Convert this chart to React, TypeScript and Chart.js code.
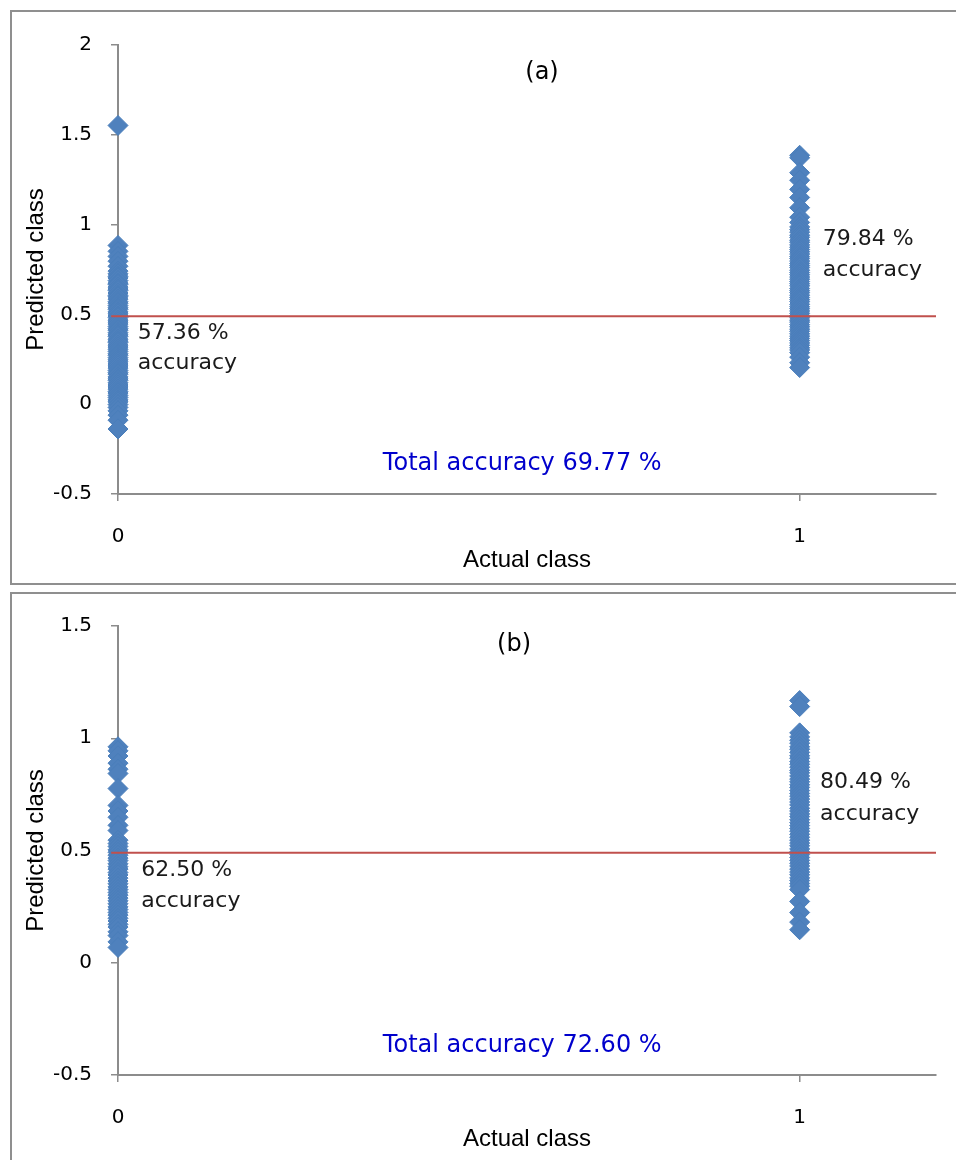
import React, { useEffect, useRef } from 'react';
import { Chart, registerables } from 'chart.js';

Chart.register(...registerables);

// ---------- data ----------
const xTicks = [0, 1];
const yTicksA = [-0.5, 0, 0.5, 1, 1.5, 2];
const yTicksB = [-0.5, 0, 0.5, 1, 1.5];

// Panel (a): predicted values for actual class 0 and actual class 1
const predA0 = [1.552, 0.884, 0.851, 0.823, 0.796, 0.768, 0.741, 0.726, 0.712, 0.703, 0.688, 0.674, 0.667, 0.652, 0.641, 0.633, 0.619, 0.606, 0.598, 0.585, 0.571, 0.562, 0.549, 0.537, 0.528, 0.514, 0.503, 0.491, 0.482, 0.468, 0.457, 0.446, 0.433, 0.421, 0.412, 0.398, 0.386, 0.377, 0.362, 0.351, 0.343, 0.329, 0.318, 0.306, 0.294, 0.281, 0.272, 0.259, 0.247, 0.236, 0.224, 0.213, 0.201, 0.188, 0.176, 0.167, 0.152, 0.141, 0.133, 0.119, 0.107, 0.096, 0.084, 0.071, 0.062, 0.049, 0.037, 0.024, 0.013, -0.002, -0.018, -0.037, -0.061, -0.089, -0.138];
const predA1 = [1.386, 1.372, 1.289, 1.247, 1.196, 1.151, 1.094, 1.041, 1.012, 0.987, 0.972, 0.958, 0.941, 0.929, 0.913, 0.902, 0.887, 0.874, 0.861, 0.849, 0.836, 0.822, 0.811, 0.797, 0.784, 0.772, 0.761, 0.746, 0.733, 0.721, 0.708, 0.696, 0.683, 0.671, 0.659, 0.644, 0.632, 0.621, 0.607, 0.594, 0.582, 0.571, 0.556, 0.543, 0.532, 0.519, 0.506, 0.494, 0.481, 0.468, 0.457, 0.443, 0.431, 0.418, 0.406, 0.392, 0.379, 0.366, 0.354, 0.341, 0.328, 0.314, 0.302, 0.287, 0.262, 0.231, 0.204];

// Panel (b)
const predB0 = [0.962, 0.944, 0.921, 0.889, 0.862, 0.843, 0.776, 0.701, 0.676, 0.648, 0.612, 0.589, 0.546, 0.531, 0.518, 0.503, 0.492, 0.479, 0.466, 0.455, 0.441, 0.428, 0.417, 0.402, 0.391, 0.377, 0.364, 0.352, 0.338, 0.326, 0.313, 0.301, 0.288, 0.276, 0.263, 0.249, 0.237, 0.224, 0.212, 0.198, 0.186, 0.171, 0.159, 0.138, 0.121, 0.093, 0.068];
const predB1 = [1.168, 1.141, 1.024, 1.006, 0.991, 0.978, 0.962, 0.951, 0.937, 0.922, 0.911, 0.896, 0.884, 0.871, 0.857, 0.846, 0.832, 0.818, 0.806, 0.793, 0.781, 0.767, 0.754, 0.742, 0.729, 0.716, 0.703, 0.688, 0.676, 0.663, 0.651, 0.637, 0.624, 0.611, 0.598, 0.586, 0.572, 0.559, 0.546, 0.533, 0.521, 0.507, 0.494, 0.482, 0.469, 0.456, 0.443, 0.431, 0.417, 0.404, 0.392, 0.378, 0.366, 0.353, 0.341, 0.326, 0.273, 0.224, 0.181, 0.147];

const thresholdA = 0.49;
const thresholdB = 0.49;
const thresholdXRange = [-0.01, 1.2];

const labelsA = [
  { text: '(a)', x: 0.622, y: 1.844, align: 'center', kind: 'panel' },
  { text: '57.36 %', x: 0.029, y: 0.396, align: 'left', kind: 'note' },
  { text: 'accuracy', x: 0.029, y: 0.229, align: 'left', kind: 'note' },
  { text: '79.84 %', x: 1.034, y: 0.92, align: 'left', kind: 'note' },
  { text: 'accuracy', x: 1.034, y: 0.747, align: 'left', kind: 'note' },
  { text: 'Total accuracy 69.77 %', x: 0.593, y: -0.333, align: 'center', kind: 'total' },
];
const labelsB = [
  { text: '(b)', x: 0.581, y: 1.415, align: 'center', kind: 'panel' },
  { text: '62.50 %', x: 0.034, y: 0.413, align: 'left', kind: 'note' },
  { text: 'accuracy', x: 0.034, y: 0.275, align: 'left', kind: 'note' },
  { text: '80.49 %', x: 1.03, y: 0.805, align: 'left', kind: 'note' },
  { text: 'accuracy', x: 1.03, y: 0.663, align: 'left', kind: 'note' },
  { text: 'Total accuracy 72.60 %', x: 0.593, y: -0.371, align: 'center', kind: 'total' },
];

// ---------- styles ----------
const BLUE = '#4F81BD';
const BLUE_EDGE = '#4A7EBB';
const RED = '#C0504D';
const AXIS = '#8c8c8c';
const TICK_FONT = { family: 'DejaVu Sans', size: 20 };
const TITLE_FONT = { family: 'Liberation Sans', size: 24 };
const TEXT_FONTS: Record<string, string> = {
  panel: '24px "DejaVu Sans"',
  note: '22px "DejaVu Sans"',
  total: '24px "DejaVu Sans"',
};
const TEXT_COLORS: Record<string, string> = {
  panel: '#000000',
  note: '#1a1a1a',
  total: '#0000CC',
};

const textPlugin = {
  id: 'freeTexts',
  afterDatasetsDraw(chart: any, _args: any, opts: any) {
    const { ctx } = chart;
    const xs = chart.scales.x;
    const ys = chart.scales.y;
    ctx.save();
    for (const t of opts.items || []) {
      ctx.font = TEXT_FONTS[t.kind];
      ctx.fillStyle = TEXT_COLORS[t.kind];
      ctx.textAlign = t.align;
      ctx.textBaseline = 'middle';
      ctx.fillText(t.text, xs.getPixelForValue(t.x), ys.getPixelForValue(t.y));
    }
    ctx.restore();
  },
};

type PanelProps = {
  top: number;
  height: number;
  class0: number[];
  class1: number[];
  threshold: number;
  yTicks: number[];
  labels: any[];
  padTop: number;
  xAxisHeight: number;
  xTitlePad: number;
};

function Panel(p: PanelProps) {
  const ref = useRef<HTMLCanvasElement | null>(null);
  useEffect(() => {
    if (!ref.current) return;
    const pointStyle = {
      pointStyle: 'rectRot',
      pointRadius: 10,
      pointHoverRadius: 10,
      backgroundColor: BLUE,
      borderColor: BLUE_EDGE,
      borderWidth: 1,
      showLine: false,
      clip: false as any,
      order: 2,
    };
    const chart = new Chart(ref.current, {
      type: 'scatter',
      data: {
        datasets: [
          { ...pointStyle, label: 'class 0', data: p.class0.map((v) => ({ x: xTicks[0], y: v })) },
          { ...pointStyle, label: 'class 1', data: p.class1.map((v) => ({ x: xTicks[1], y: v })) },
          {
            label: 'threshold',
            data: thresholdXRange.map((x) => ({ x, y: p.threshold })),
            showLine: true,
            borderColor: RED,
            backgroundColor: RED,
            borderWidth: 2,
            pointRadius: 0,
            clip: false as any,
            order: 0,
          },
        ],
      },
      options: {
        responsive: false,
        animation: false,
        events: [],
        layout: { padding: { top: p.padTop, right: 20, left: 0, bottom: 0 } },
        plugins: {
          legend: { display: false },
          tooltip: { enabled: false },
          freeTexts: { items: p.labels },
        } as any,
        scales: {
          x: {
            type: 'linear',
            position: 'bottom',
            min: 0,
            max: 1.2,
            afterBuildTicks: (s: any) => {
              s.ticks = xTicks.map((v) => ({ value: v }));
            },
            afterFit: (s: any) => {
              s.height = p.xAxisHeight;
            },
            ticks: { font: TICK_FONT, color: '#000', padding: 24, callback: (v: any) => String(v) },
            grid: { drawOnChartArea: false, drawTicks: true, tickLength: 7, color: AXIS, lineWidth: 1.5 },
            border: { display: true, color: AXIS, width: 2 },
            title: {
              display: true,
              text: 'Actual class',
              font: TITLE_FONT,
              color: '#000',
              padding: { top: 0, bottom: p.xTitlePad },
            },
          },
          y: {
            type: 'linear',
            position: 'left',
            min: p.yTicks[0],
            max: p.yTicks[p.yTicks.length - 1],
            afterBuildTicks: (s: any) => {
              s.ticks = p.yTicks.map((v) => ({ value: v }));
            },
            afterFit: (s: any) => {
              s.width = 118;
            },
            ticks: { font: TICK_FONT, color: '#000', padding: 19, callback: (v: any) => String(v) },
            grid: { drawOnChartArea: false, drawTicks: true, tickLength: 7, color: AXIS, lineWidth: 1.5 },
            border: { display: true, color: AXIS, width: 2 },
            title: {
              display: true,
              text: 'Predicted class',
              font: TITLE_FONT,
              color: '#000',
              padding: { top: 22, bottom: 0 },
            },
          },
        },
      },
      plugins: [textPlugin as any],
    });
    return () => chart.destroy();
  }, []);
  return (
    <canvas
      ref={ref}
      width={956}
      height={p.height}
      style={{ position: 'absolute', left: 0, top: p.top, width: 956, height: p.height }}
    />
  );
}

export default function App() {
  return (
    <div
      style={{
        position: 'absolute',
        left: 0,
        top: 0,
        width: 956,
        height: 1160,
        overflow: 'hidden',
        background: '#fff',
      }}
    >
      <div
        style={{
          position: 'absolute',
          left: 10,
          top: 10,
          width: 1000,
          height: 571,
          border: '2px solid #8f8f8f',
        }}
      />
      <div
        style={{
          position: 'absolute',
          left: 10,
          top: 592,
          width: 1000,
          height: 600,
          border: '2px solid #8f8f8f',
        }}
      />
      <Panel
        top={0}
        height={590}
        class0={predA0}
        class1={predA1}
        threshold={thresholdA}
        yTicks={yTicksA}
        labels={labelsA}
        padTop={45}
        xAxisHeight={96}
        xTitlePad={15}
      />
      <Panel
        top={590}
        height={570}
        class0={predB0}
        class1={predB1}
        threshold={thresholdB}
        yTicks={yTicksB}
        labels={labelsB}
        padTop={36}
        xAxisHeight={85}
        xTitlePad={6}
      />
    </div>
  );
}
